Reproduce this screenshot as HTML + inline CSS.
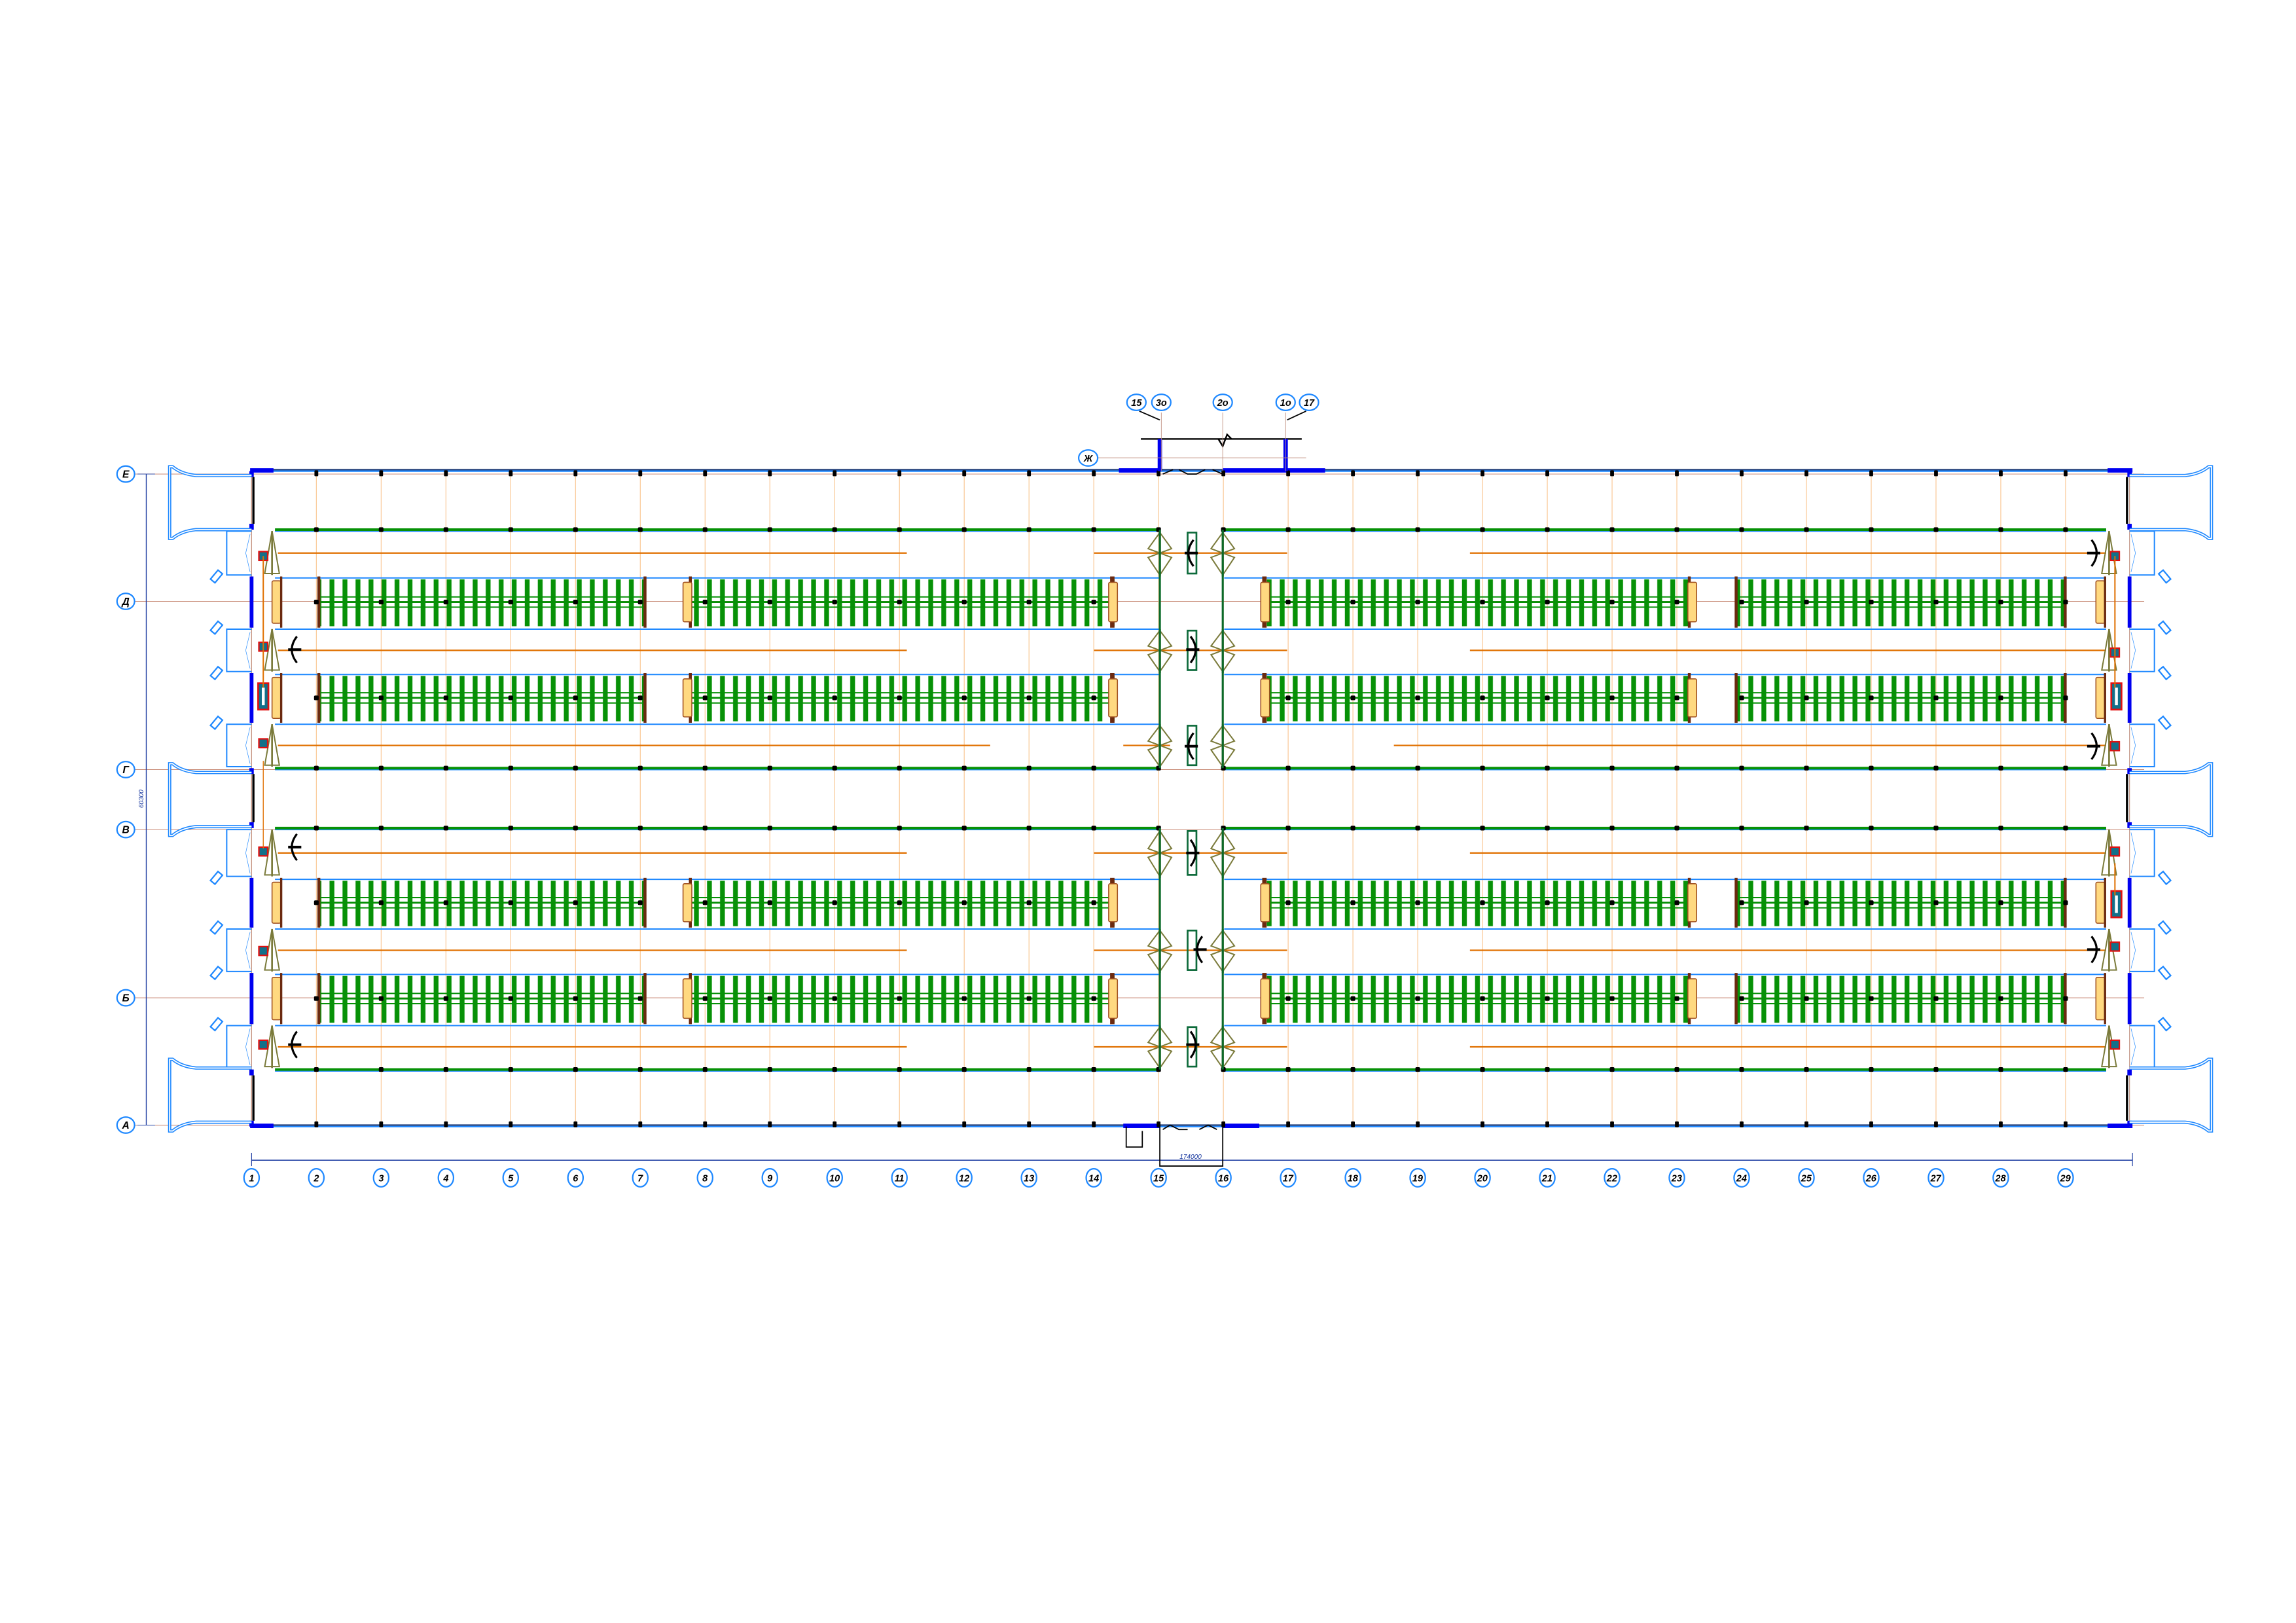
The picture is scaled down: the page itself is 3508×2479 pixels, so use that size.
<!DOCTYPE html>
<html><head><meta charset="utf-8"><style>
html,body{margin:0;padding:0;background:#fff;}
svg{display:block;}
text{font-family:"Liberation Sans",sans-serif;font-weight:bold;font-style:italic;}
</style></head><body>
<svg id="s" xmlns="http://www.w3.org/2000/svg" width="3508" height="2479" viewBox="0 0 1569.8 1109.3">
<defs>
<pattern id="teeth" x="0" y="0" width="8.9" height="60" patternUnits="userSpaceOnUse">
<rect x="2.8" y="0" width="3.3" height="60" fill="#079107"/>
</pattern>
</defs>
<g id="g"></g>
<g fill="#fff" stroke="#1e88ff" stroke-width="1">
<ellipse cx="86" cy="324" rx="6" ry="5.5"/><ellipse cx="86" cy="411" rx="6" ry="5.5"/><ellipse cx="86" cy="526" rx="6" ry="5.5"/>
<ellipse cx="86" cy="567" rx="6" ry="5.5"/><ellipse cx="86" cy="682" rx="6" ry="5.5"/><ellipse cx="86" cy="769" rx="6" ry="5.5"/>
</g>
<g font-size="7" text-anchor="middle" fill="#000">
<text x="86" y="326.5">Е</text><text x="86" y="413.5">Д</text><text x="86" y="528.5">Г</text>
<text x="86" y="569.5">В</text><text x="86" y="684.5">Б</text><text x="86" y="771.5">А</text>
</g>
<text x="98" y="546" font-size="4.5" fill="#1a3aa0" transform="rotate(-90 98 546)" text-anchor="middle" style="font-weight:normal">60300</text>
<g id="bl" fill="#fff" stroke="#1e88ff" stroke-width="1"></g>
<g font-size="6.5" text-anchor="middle" fill="#000">
<text x="172" y="807.5">1</text><text x="216.3" y="807.5">2</text><text x="260.6" y="807.5">3</text><text x="304.9" y="807.5">4</text><text x="349.2" y="807.5">5</text><text x="393.5" y="807.5">6</text><text x="437.7" y="807.5">7</text><text x="482" y="807.5">8</text><text x="526.3" y="807.5">9</text><text x="570.6" y="807.5">10</text><text x="614.9" y="807.5">11</text><text x="659.2" y="807.5">12</text><text x="703.5" y="807.5">13</text><text x="747.8" y="807.5">14</text><text x="792.1" y="807.5">15</text><text x="836.4" y="807.5">16</text><text x="880.6" y="807.5">17</text><text x="924.9" y="807.5">18</text><text x="969.2" y="807.5">19</text><text x="1013.5" y="807.5">20</text><text x="1057.8" y="807.5">21</text><text x="1102.1" y="807.5">22</text><text x="1146.4" y="807.5">23</text><text x="1190.7" y="807.5">24</text><text x="1235" y="807.5">25</text><text x="1279.3" y="807.5">26</text><text x="1323.5" y="807.5">27</text><text x="1367.8" y="807.5">28</text><text x="1412.1" y="807.5">29</text>
</g>
<text x="814" y="792" font-size="4.5" fill="#1a3aa0" text-anchor="middle" style="font-weight:normal">174000</text>
<g fill="#fff" stroke="#1e88ff" stroke-width="1">
<ellipse cx="777" cy="275" rx="6.5" ry="5.5"/><ellipse cx="794" cy="275" rx="6.5" ry="5.5"/><ellipse cx="836" cy="275" rx="6.5" ry="5.5"/>
<ellipse cx="879" cy="275" rx="6.5" ry="5.5"/><ellipse cx="895" cy="275" rx="6.5" ry="5.5"/><ellipse cx="744" cy="313" rx="6.5" ry="5.5"/>
</g>
<g font-size="6.5" text-anchor="middle" fill="#000">
<text x="777" y="277.5">15</text><text x="794" y="277.5">3о</text><text x="836" y="277.5">2о</text><text x="879" y="277.5">1о</text><text x="895" y="277.5">17</text><text x="744" y="315.5">Ж</text>
</g>
</svg>
<script>
(function(){
var g=document.getElementById('g');var NS='http://www.w3.org/2000/svg';
function a(t,o,p){var e=document.createElementNS(NS,t);for(var k in o)e.setAttribute(k,o[k]);(p||g).appendChild(e);return e;}
function L(x1,y1,x2,y2,c,w,ex){var o={x1:x1,y1:y1,x2:x2,y2:y2,stroke:c,'stroke-width':w};if(ex)for(var k in ex)o[k]=ex[k];return a('line',o);}
function R(x,y,w,h,f,ex){var o={x:x,y:y,width:w,height:h,fill:f};if(ex)for(var k in ex)o[k]=ex[k];return a('rect',o);}
var X=function(k){return 172+(k-1)*44.295;};
var XL=172,XR=1456,YT=322,YB=770;
[324,411,526,567,682,769].forEach(function(y){L(80,y,XR+10,y,'#c07860',0.4);});
L(100,324,100,769,'#1a3aa0',0.6);L(94,324,106,324,'#1a3aa0',0.4);L(94,769,106,769,'#1a3aa0',0.4);
L(172,793,1458,793,'#1a3aa0',0.7);L(172,788,172,797,'#1a3aa0',0.5);L(1458,788,1458,797,'#1a3aa0',0.5);
var bl=document.getElementById('bl');
for(var k=1;k<=29;k++){a('ellipse',{cx:X(k),cy:805,rx:5.2,ry:6.2},bl);}
for(var k=1;k<=29;k++){L(X(k),YT,X(k),YB,'#f9c48e',0.5);}
var lanes=[[362,394,429,460,494,525],[566,600,634,665,700,731]];
var xs1=188,xe1=793,xs2=837,xe2=1440;
lanes.forEach(function(b,bi){
 for(var i=0;i<6;i++){L(xs1,b[i]+1,xe1,b[i]+1,'#1e88ff',0.9);L(xs2,b[i]+1,xe2,b[i]+1,'#1e88ff',0.9);}
 L(xs1,b[0],xe1,b[0],'#079107',1.8);L(xs2,b[0],xe2,b[0],'#079107',1.8);
 L(xs1,b[5],xe1,b[5],'#079107',1.8);L(xs2,b[5],xe2,b[5],'#079107',1.8);
 [[b[1],b[2]],[b[3],b[4]]].forEach(function(r){
  var y0=r[0]+2,h=r[1]-r[0]-3,c=(r[0]+r[1])/2;
  [[218,441],[472,762],[865,1155],[1187,1412]].forEach(function(s){
   R(s[0],y0,s[1]-s[0],h,'url(#teeth)');
   L(s[0],c-3.5,s[1],c-3.5,'#079107',0.9);L(s[0],c,s[1],c,'#079107',1.3);L(s[0],c+3.5,s[1],c+3.5,'#079107',0.9);
  });
  [218,441,472,1155,1187,1412].forEach(function(x){R(x-1,r[0],2,r[1]-r[0],'#6b2a10');});
  [[760,762],[864,866]].forEach(function(x){R(x[0]-1,r[0],3,r[1]-r[0],'#6b2a10');});
  [[758,765],[862,869]].forEach(function(x){R(x[0],r[0]+4,6,r[1]-r[0]-8,'#ffd980',{stroke:'#a05020','stroke-width':0.7,rx:1});});
  [189,1436].forEach(function(x){R(x-3,r[0]+3,6,r[1]-r[0]-6,'#ffd980',{stroke:'#a05020','stroke-width':0.7,rx:1});R(x+2.5,r[0],1.5,r[1]-r[0],'#6b2a10');});
  [470,1157].forEach(function(x){R(x-3,r[0]+4,6,r[1]-r[0]-8,'#ffd980',{stroke:'#a05020','stroke-width':0.7,rx:1});});
  for(var k=2;k<=29;k++){if(k==15||k==16)continue;R(X(k)-1.6,c-1.6,3.2,3.2,'#000',{rx:0.8});}
 });
 [b[0],b[2],b[4]].forEach(function(y,i){
  var ym=(y+b[i*2+1])/2;
  if(bi==0&&i==2){L(190,ym,677,ym,'#e07000',1);L(768,ym,800,ym,'#e07000',1);L(953,ym,1440,ym,'#e07000',1);}
  else{L(190,ym,620,ym,'#e07000',1); L(748,ym,880,ym,'#e07000',1); L(1005,ym,1440,ym,'#e07000',1);}
  [793,836].forEach(function(x){
   a('polygon',{points:(x)+','+(y+2)+' '+(x+8)+','+(ym-3)+' '+x+','+(ym)+' '+(x-8)+','+(ym-3),fill:'none',stroke:'#7a7a3a','stroke-width':0.9});
   a('polygon',{points:(x)+','+(ym)+' '+(x+8)+','+(ym+3)+' '+x+','+(b[i*2+1]-1)+' '+(x-8)+','+(ym+3),fill:'none',stroke:'#7a7a3a','stroke-width':0.9});
   L(x,y+1,x,b[i*2+1],'#7a7a3a',1.5);
  });
  R(812,y+2,6,b[i*2+1]-y-4,'none',{stroke:'#0c6a3a','stroke-width':1.2});
  [186,1442].forEach(function(x){
   a('polygon',{points:x+','+(y+1)+' '+(x+5)+','+(b[i*2+1]-2)+' '+(x-5)+','+(b[i*2+1]-2),fill:'none',stroke:'#7a7a3a','stroke-width':0.9});
   L(x,y+1,x,b[i*2+1]-1,'#7a7a3a',1.2);
  });
 });
 for(var k=2;k<=29;k++){[b[0],b[5]].forEach(function(y){R(X(k)-1.6,y-1.6,3.2,3.2,'#000',{rx:0.8});});}
 L(793,b[0],793,b[5],'#0b6a2a',1.4);L(836,b[0],836,b[5],'#0b6a2a',1.4);
});
function arc(x,y,d){a('path',{d:'M'+(x+4*d)+','+(y-9)+' Q'+(x-3*d)+','+y+' '+(x+4*d)+','+(y+9),fill:'none',stroke:'#000','stroke-width':1.4});L(x-2*d,y,x+7*d,y,'#000',1.8);}
arc(812,378,1);arc(818,444,-1);arc(812,510,1);arc(818,583,-1);arc(818,649,1);arc(818,714,-1);
arc(199,444,1);arc(199,579,1);arc(199,714,1);arc(1434,378,-1);arc(1434,510,-1);arc(1434,649,-1);
[[180,380],[180,442],[180,508],[180,582],[180,650],[180,714],[1446,380],[1446,446],[1446,510],[1446,582],[1446,647],[1446,714]].forEach(function(p){R(p[0]-3,p[1]-3,6,6,'#12708a',{stroke:'#e01010','stroke-width':1});});
[[180,476],[1447,476],[1447,618]].forEach(function(p){R(p[0]-3.5,p[1]-9,7,18,'#12708a',{stroke:'#e01010','stroke-width':1.2});R(p[0]-1,p[1]-6,2,12,'#fff');});
L(180,380,180,470,'#e07000',0.9);L(180,520,180,580,'#e07000',0.6);L(1446,380,1446,470,'#e07000',0.9);L(1446,590,1446,612,'#e07000',0.9);
L(XL,YT,XR,YT,'#1e88ff',1);L(XL,YT-1,XR,YT-1,'#24407a',1);
L(XL,YB,XR,YB,'#1e88ff',1);L(XL,YB-1,XR,YB-1,'#24407a',1);
[[XL-1,YT-2,16,3],[XR-15,YT-2,17,3],[XL-1,YB-2,16,3],[XR-15,YB-2,17,3],[765,YT-2,28,3],[836,YT-2,70,3],[768,YB-2,25,3],[836,YB-2,25,3]].forEach(function(r){R(r[0],r[1],r[2],r[3],'#0000f0');});
[XL,XR].forEach(function(x,i){
 L(x,YT,x,YB,'#c09080',0.5);
 var d=i?1:-1;
 [[394,429],[460,494],[600,634],[665,700]].forEach(function(s){R(x-1.3,s[0],2.6,s[1]-s[0],'#0000f0');});
 [[YT,362],[525,566],[731,YB]].forEach(function(s){R(x-1+(i?-1.5:1.5),s[0]+4,1.5,s[1]-s[0]-8,'#000');R(x-1.5,s[0],3,4,'#0000f0');R(x-1.5,s[1]-4,3,4,'#0000f0');});
 [[362,394],[429,460],[494,525],[566,600],[634,665],[700,731]].forEach(function(s){
  var xo=x+d*17;
  a('polyline',{points:x+','+(s[0]+1)+' '+xo+','+(s[0]+1)+' '+xo+','+(s[1]-1)+' '+x+','+(s[1]-1),fill:'none',stroke:'#1e88ff','stroke-width':0.9});
  L(x+d*1,s[0]+3,x+d*4,(s[0]+s[1])/2,'#1e88ff',0.3);L(x+d*4,(s[0]+s[1])/2,x+d*1,s[1]-3,'#1e88ff',0.3);
 });
 [394,429,460,494,600,634,665,700].forEach(function(y){
  var cx=x+d*24;
  R(cx-2,y-4,4,8,'#fff',{stroke:'#1e88ff','stroke-width':1,transform:'rotate('+(d*-40)+' '+cx+' '+y+')'});
 });
 [[319,368],[522,571],[724,773]].forEach(function(t){
  var xe=x+d*56,xm=x+d*38;
  var p='M'+x+','+(t[0]+6)+' L'+xm+','+(t[0]+6)+' Q'+(xm+d*10)+','+(t[0]+5)+' '+(xe-d*2)+','+t[0]+' L'+xe+','+t[0]+' L'+xe+','+t[1]+' L'+(xe-d*2)+','+t[1]+' Q'+(xm+d*10)+','+(t[1]-5)+' '+xm+','+(t[1]-6)+' L'+x+','+(t[1]-6);
  a('path',{d:p,fill:'none',stroke:'#1e88ff','stroke-width':2.2});
  a('path',{d:p,fill:'none',stroke:'#fff','stroke-width':0.8});
 });
});
for(var k=2;k<=29;k++){[YT+1.5,YB-1.5].forEach(function(y){R(X(k)-1.3,y-2,2.6,4,'#000',{rx:0.6});});}
L(780,300,890,300,'#000',1.1);
a('polyline',{points:'833,300 836,305 839,297 842,300',fill:'none',stroke:'#000','stroke-width':1.1});
R(791.5,300,3,22,'#0000f0');R(877.5,300,3,22,'#0000f0');
L(779,281,793,287,'#000',0.8);L(893,281,880,287,'#000',0.8);
L(750,313,893,313,'#c09080',0.5);
L(794,282,794,322,'#c09080',0.4);L(836,282,836,322,'#c09080',0.4);L(879,282,879,322,'#c09080',0.4);
a('polyline',{points:'795,324 802,321',fill:'none',stroke:'#000','stroke-width':0.8});
a('polyline',{points:'806,321 812,324 818,324 824,321',fill:'none',stroke:'#000','stroke-width':0.8});
a('polyline',{points:'829,321 836,324',fill:'none',stroke:'#000','stroke-width':0.8});
a('polyline',{points:'795,772 800,769 806,772 812,772',fill:'none',stroke:'#000','stroke-width':0.8});
a('polyline',{points:'820,772 826,769 832,772',fill:'none',stroke:'#000','stroke-width':0.8});
a('polyline',{points:'793,770 793,797 836,797 836,770',fill:'none',stroke:'#000','stroke-width':0.8});
a('polyline',{points:'770,770 770,784 781,784 781,773',fill:'none',stroke:'#000','stroke-width':0.8});
})();
</script>
</body></html>
